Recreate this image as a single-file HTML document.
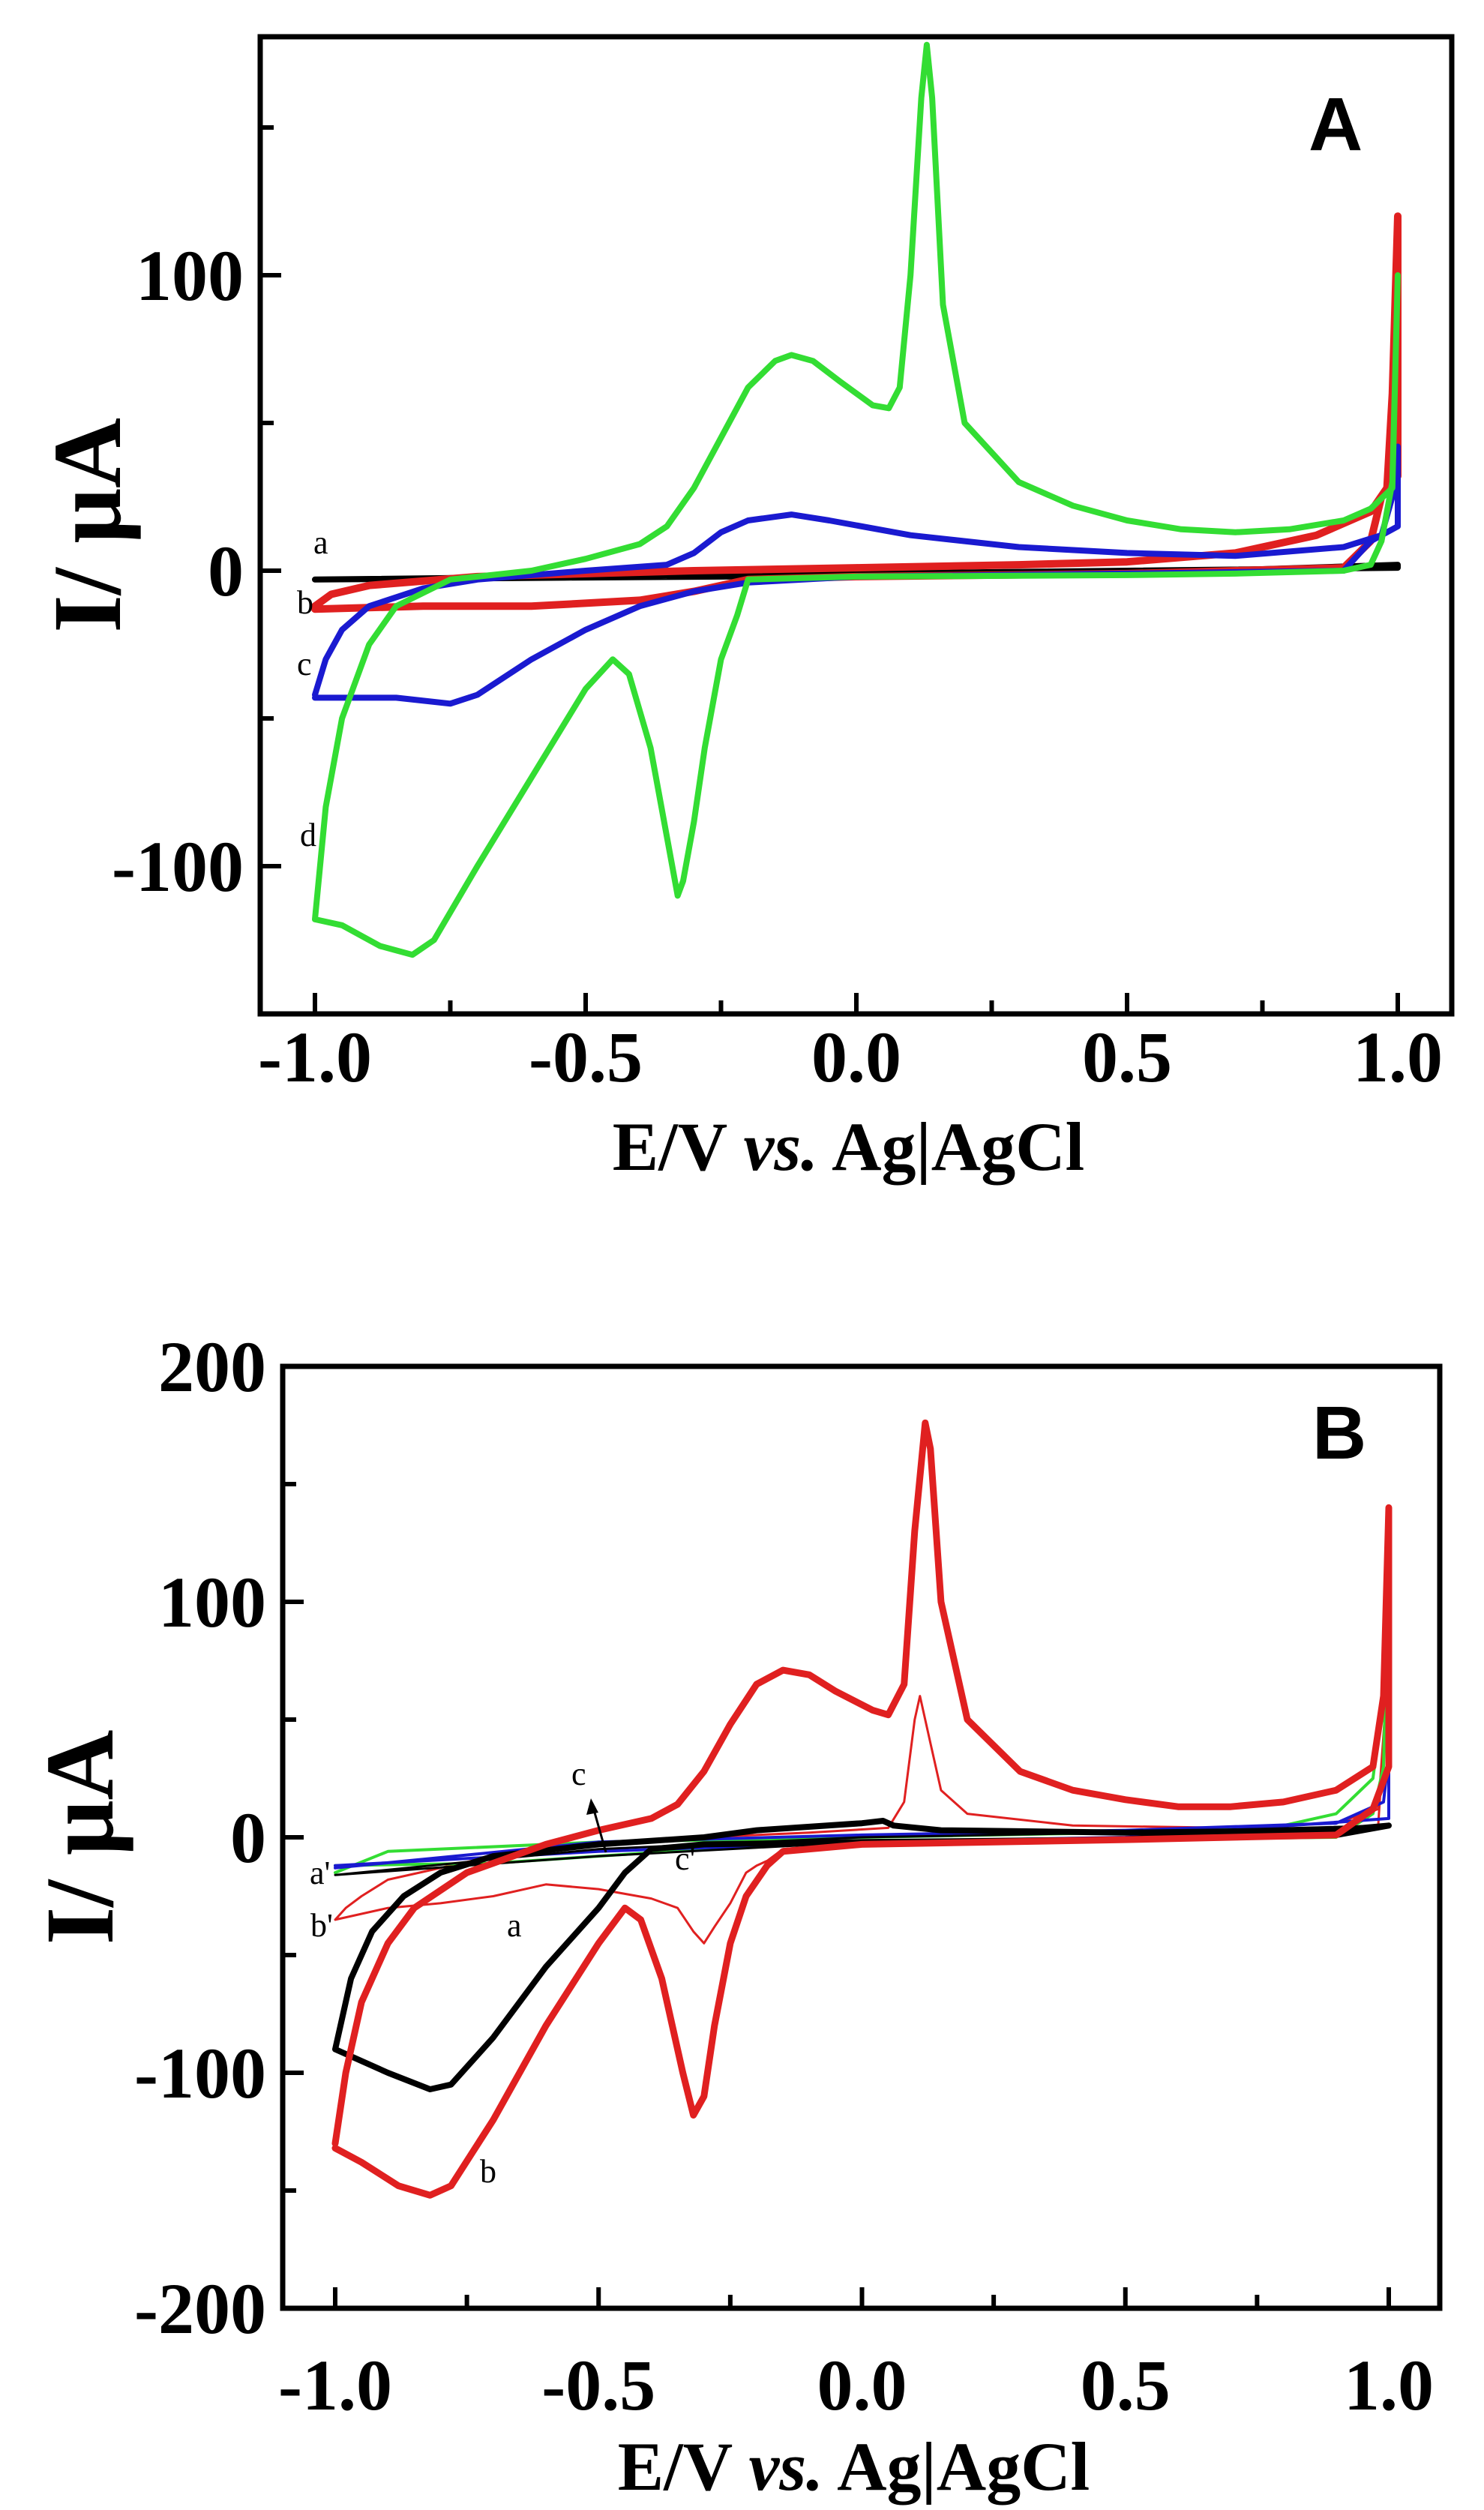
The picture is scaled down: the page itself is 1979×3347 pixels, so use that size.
<!DOCTYPE html>
<html><head><meta charset="utf-8"><style>
html,body{margin:0;padding:0;background:#fff}
svg{display:block}
text{font-family:"Liberation Serif",serif;font-weight:bold;fill:#000}
</style></head><body>
<svg id="fig" width="1979" height="3347" viewBox="0 0 1979 3347" xmlns="http://www.w3.org/2000/svg"></svg>
<script>
// ---- Panel A data (E in V, I in µA) ----
const aBlackE=[-1.0,0,0.5,1.0,1.0,0.5,-1.0];
const aBlackI=[-3,-1,0,1,2,-1,-3];
const aRedE=[-1.0,-0.97,-0.9,-0.7,-0.3,0,0.3,0.5,0.7,0.85,0.95,0.98,0.99,1.0,1.0,0.97,0.95,0.9,0.5,0,-0.2,-0.3,-0.4,-0.6,-0.8,-1.0];
const aRedI=[-12,-8,-5,-2,0,1,2,3,6,12,20,28,60,120,32,25,10,1,-1,-2,-3,-7,-10,-12,-12,-13];
const aBlueE=[-1.0,-0.98,-0.95,-0.9,-0.8,-0.7,-0.5,-0.35,-0.3,-0.25,-0.2,-0.12,-0.05,0.1,0.3,0.5,0.7,0.9,0.97,0.99,1.0,1.0,0.98,0.95,0.9,0.5,0,-0.2,-0.3,-0.4,-0.5,-0.6,-0.7,-0.75,-0.85,-1.0];
const aBlueI=[-42,-30,-20,-12,-6,-3,0,2,6,13,17,19,17,12,8,6,5,8,12,25,42,15,13,10,0,-1,-2,-4,-7,-12,-20,-30,-42,-45,-43,-43];
const aGreenE=[-1.0,-0.98,-0.95,-0.9,-0.85,-0.75,-0.6,-0.5,-0.4,-0.35,-0.3,-0.25,-0.2,-0.15,-0.12,-0.08,-0.03,0.03,0.06,0.08,0.1,0.12,0.13,0.14,0.16,0.2,0.3,0.4,0.5,0.6,0.7,0.8,0.9,0.95,0.99,1.0,0.99,0.97,0.95,0.9,0.7,0.5,0,-0.2,-0.22,-0.25,-0.28,-0.3,-0.32,-0.33,-0.35,-0.38,-0.42,-0.45,-0.5,-0.6,-0.7,-0.78,-0.82,-0.88,-0.95,-1.0];
const aGreenI=[-118,-80,-50,-25,-12,-3,0,4,9,15,28,45,62,71,73,71,64,56,55,62,100,160,178,160,90,50,30,22,17,14,13,14,17,21,28,100,30,10,2,0,-1,-1.5,-2,-3,-15,-30,-60,-85,-105,-110,-90,-60,-35,-30,-40,-70,-100,-125,-130,-127,-120,-118];
// ---- Panel B data ----
const bRedE=[-1.0,-0.98,-0.95,-0.9,-0.85,-0.75,-0.6,-0.5,-0.4,-0.35,-0.3,-0.25,-0.2,-0.15,-0.1,-0.05,0.02,0.05,0.08,0.1,0.12,0.13,0.15,0.2,0.3,0.4,0.5,0.6,0.7,0.8,0.9,0.97,0.99,1.0,1.0,0.97,0.9,0.5,0,-0.15,-0.18,-0.22,-0.25,-0.28,-0.3,-0.32,-0.34,-0.38,-0.42,-0.45,-0.5,-0.6,-0.7,-0.78,-0.82,-0.88,-0.95,-1.0];
const bRedI=[-130,-100,-70,-45,-30,-15,-3,3,8,14,28,48,65,71,69,62,54,52,65,130,176,165,100,50,28,20,16,13,13,15,20,30,60,140,30,12,1,-1,-3,-6,-12,-25,-45,-80,-110,-118,-100,-60,-35,-30,-45,-80,-120,-148,-152,-148,-138,-132];
const bBlackE=[-1.0,-0.97,-0.93,-0.87,-0.8,-0.7,-0.5,-0.3,-0.2,0,0.04,0.06,0.15,0.5,0.9,1.0,0.9,0.5,0,-0.3,-0.4,-0.45,-0.5,-0.6,-0.7,-0.78,-0.82,-0.9,-1.0];
const bBlackI=[-90,-60,-40,-25,-15,-8,-3,0,3,6,7,5,3,2,3,5,1,-1,-2,-3,-5,-15,-30,-55,-85,-105,-107,-100,-90];
const bRedDashE=[-1.0,-0.98,-0.95,-0.9,-0.7,-0.5,-0.3,-0.1,0.05,0.08,0.1,0.11,0.13,0.15,0.2,0.4,0.7,0.9,0.98,1.0,0.98,0.5,0,-0.15,-0.18,-0.2,-0.22,-0.25,-0.28,-0.3,-0.32,-0.35,-0.4,-0.5,-0.6,-0.7,-0.8,-0.9,-1.0];
const bRedDashI=[-35,-30,-25,-18,-8,-3,0,2,4,15,50,60,40,20,10,5,4,6,12,75,5,0,-2,-5,-10,-12,-15,-28,-38,-45,-40,-30,-26,-22,-20,-25,-28,-30,-35];
const bGreenE=[-1.0,-0.9,-0.5,0,0.5,0.8,0.9,0.97,0.99,1.0,0.99,0.97,0.9,0.5,0,-0.3,-0.5,-0.7,-1.0];
const bGreenI=[-15,-6,-2,0,2,5,10,25,60,120,30,10,0,-1,-2,-5,-8,-11,-12];
const bBlueE=[-1.0,-0.5,0,0.5,0.9,0.99,1.0,1.0,0.5,0,-0.5,-1.0];
const bBlueI=[-13,-2,1,3,6,15,35,8,0,-2,-6,-12];
const bBlackThinE=[-1.0,-0.5,0,0.5,1.0,0.5,0,-0.5,-1.0];
const bBlackThinI=[-16,-5,0,2,5,0,-2,-8,-16];
const xTickLabels=["-1.0","-0.5","0.0","0.5","1.0"];
const xTickVals=[-1,-0.5,0,0.5,1];
const aYTickVals=[-100,0,100];
const bYTickVals=[-200,-100,0,100,200];

const NS="http://www.w3.org/2000/svg";
const svg=document.getElementById('fig');
function el(tag,attrs,parent){const e=document.createElementNS(NS,tag);for(const k in attrs)e.setAttribute(k,attrs[k]);(parent||svg).appendChild(e);return e;}

function panel(cfg){
  const g=el('g',{});
  
  
  const X=v=>cfg.x0+cfg.xs*v, Y=v=>cfg.y0-cfg.ys*v;
  const fr=el('rect',{x:cfg.L,y:cfg.T,width:cfg.R-cfg.L,height:cfg.B-cfg.T,fill:'none',stroke:'#000','stroke-width':7},g);
  
  
  for(let v=-1;v<=1.001;v+=0.25){
    const major=Math.abs(v*2-Math.round(v*2))<1e-6;
    const t=el('line',{x1:X(v),x2:X(v),y1:cfg.B,y2:cfg.B-(major?28:18),stroke:'#000','stroke-width':6},g);
    
    
  }
  xTickVals.forEach((v,i)=>{
    const t=el('text',{x:X(v),y:cfg.B+cfg.xlOff,'text-anchor':'middle','font-size':96},g);
    t.textContent=xTickLabels[i];
    
    
  });
  for(let v=cfg.ymin;v<=cfg.ymax+0.01;v+=50){
    const major=v%100===0;
    const t=el('line',{x1:cfg.L,x2:cfg.L+(major?28:18),y1:Y(v),y2:Y(v),stroke:'#000','stroke-width':6},g);
    
    
  }
  cfg.yt.forEach(v=>{
    const t=el('text',{x:cfg.L-22,y:Y(v)+33,'text-anchor':'end','font-size':96},g);
    t.textContent=String(v);
    
    
  });
  const xt=el('text',{x:(cfg.L+cfg.R)/2-10,y:cfg.xtY,'text-anchor':'middle','font-size':92},g);
  xt.innerHTML='E/V <tspan font-style="italic">vs.</tspan> Ag|AgCl';
  
  
  const yt=el('text',{x:0,y:0,'text-anchor':'middle','font-size':130,transform:`translate(${cfg.ytX},${(cfg.T+cfg.B)/2}) rotate(-90)`},g);
  yt.textContent='I/ μA';
  
  
  const pl=el('text',{x:cfg.plX,y:cfg.plY,'font-size':100,style:'font-family:"Liberation Sans",sans-serif'},g);
  pl.textContent=cfg.label;
  
  
  cfg.series.forEach(s=>{
    const pts=s.E.map((e,i)=>X(e).toFixed(1)+','+Y(s.I[i]).toFixed(1)).join(' ');
    const p=el('polyline',{points:pts,fill:'none',stroke:s.c,'stroke-width':s.w,'stroke-linejoin':'round','stroke-linecap':'round'},g);
    if(s.dash)p.setAttribute('stroke-dasharray',s.dash);
    
    
  });
  cfg.notes.forEach(n=>{
    const t=el('text',{x:n[1],y:n[2],'font-size':44,style:'font-weight:normal'},g);
    t.textContent=n[0];
    
    
  });
  return g;
}

panel({name:'panel-a',L:347,R:1936,T:49,B:1352,x0:1142,xs:722,y0:761,ys:3.94,ymin:-150,ymax:150,yt:aYTickVals,xlOff:90,xtY:1560,ytX:160,label:'A',plX:1745,plY:200,
  series:[
    {n:'curve-a-black',E:aBlackE,I:aBlackI,c:'#000',w:8},
    {n:'curve-b-red',E:aRedE,I:aRedI,c:'#e02020',w:10},
    {n:'curve-c-blue',E:aBlueE,I:aBlueI,c:'#1a1ad0',w:8},
    {n:'curve-d-green',E:aGreenE,I:aGreenI,c:'#33dd33',w:8}],
  notes:[['a',418,738],['b',396,818],['c',396,900],['d',400,1128]]});

panel({name:'panel-b',L:377,R:1920,T:1822,B:3078,x0:1149.5,xs:702.5,y0:2450,ys:3.14,ymin:-200,ymax:200,yt:bYTickVals,xlOff:135,xtY:3320,ytX:150,label:'B',plX:1750,plY:1945,
  series:[
    {n:'curve-bprime-red-dashed',E:bRedDashE,I:bRedDashI,c:'#e02020',w:3},
    {n:'curve-cprime-green',E:bGreenE,I:bGreenI,c:'#33dd33',w:4},
    {n:'curve-blue',E:bBlueE,I:bBlueI,c:'#1a1ad0',w:4},
    {n:'curve-aprime-black',E:bBlackThinE,I:bBlackThinI,c:'#000',w:3},
    {n:'curve-a-black',E:bBlackE,I:bBlackI,c:'#000',w:8},
    {n:'curve-b-red',E:bRedE,I:bRedI,c:'#e02020',w:9}],
  notes:[['c',762,2380],["a'",413,2512],["b'",414,2582],["c'",900,2493],['a',676,2582],['b',640,2910]]});

const ar=el('line',{x1:808,y1:2470,x2:791,y2:2410,stroke:'#000','stroke-width':3});


const ah=el('polygon',{points:'788,2398 782,2420 798,2417',fill:'#000'});


</script>
</body></html>
